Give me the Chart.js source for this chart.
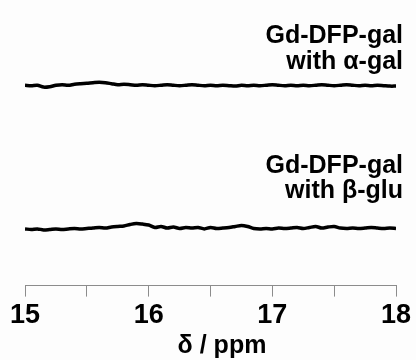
<!DOCTYPE html>
<html>
<head>
<meta charset="utf-8">
<script src="https://cdn.jsdelivr.net/npm/chart.js@4"></script>
<style>
  html, body { margin: 0; padding: 0; background: #fdfdfd; }
  #wrap { width: 416px; height: 360px; }
</style>
</head>
<body>
<div id="wrap"><canvas id="nmr" width="416" height="360"></canvas></div>
<script>
// ----------------------------
// Data: 19F-type spectra, shift axis 15..18 ppm, step 0.05
// ----------------------------
var shiftPpm = [];
for (var k = 0; k <= 60; k++) shiftPpm.push(+(15 + k * 0.05).toFixed(2));

// signal (arbitrary units) around each trace's baseline
var alphaGal = [
  0.3, 0.0, 0.3, -1.0, -0.7, 0.3, 0.7, 0.3, 1.0, 1.4,
  1.7, 2.1, 2.4, 2.1, 1.4, 0.7, 1.0, 0.7, 0.3, 0.7,
  0.3, 0.0, 0.3, 0.7, 0.3, 0.0, 0.3, 0.7, 0.3, 0.0,
  0.3, 0.0, 0.3, 0.0, -0.3, 0.3, 0.0, 0.3, 0.0, 0.3,
  0.7, 0.3, 0.0, 0.3, 0.0, 0.3, 0.0, 0.3, 0.7, 0.3,
  0.0, 0.3, 0.7, 0.3, 0.0, 0.3, 0.0, 0.3, 0.0, -0.3,
  -0.3
];
var betaGlu = [
  -0.3, -0.7, -0.3, -1.0, -0.7, -0.3, -0.7, -0.3, 0.0, -0.3,
  0.0, 0.3, 0.7, 0.3, 1.0, 1.4, 1.7, 2.8, 3.5, 3.1,
  2.4, 0.7, 1.4, 0.3, 1.0, 0.0, 0.7, 0.3, 0.7, -0.3,
  0.7, 0.0, 0.3, 0.7, 1.4, 2.1, 1.4, 0.0, -0.3, 0.0,
  -0.3, 0.3, 0.0, 0.3, 0.7, 0.0, 0.7, 1.4, 0.3, 1.0,
  1.4, 0.3, 0.0, 0.3, 0.0, 0.3, 0.7, 0.3, 0.0, 0.3,
  0.0
];

// stacking offsets for the two spectra
var alphaOffset = 100;
var betaOffset = 0;

var xTicks = [15, 16, 17, 18];

function toPoints(values, offset) {
  return values.map(function (v, i) { return { x: shiftPpm[i], y: v + offset }; });
}

// ----------------------------
// Trace labels + axis title (drawn as canvas text)
// ----------------------------
var textPlugin = {
  id: 'traceLabels',
  afterDraw: function (chart) {
    var ctx = chart.ctx;
    var right = chart.chartArea.right + 7;
    ctx.save();
    ctx.fillStyle = '#000';
    ctx.font = 'bold 25px "Liberation Sans", Arial, sans-serif';
    ctx.textAlign = 'right';
    ctx.textBaseline = 'alphabetic';
    ctx.fillText('Gd-DFP-gal', right, 43);
    ctx.fillText('with \u03B1-gal', right, 69);
    ctx.fillText('Gd-DFP-gal', right, 173);
    ctx.fillText('with \u03B2-glu', right, 198);
    ctx.textAlign = 'center';
    ctx.fillText('\u03B4 / ppm', 222, 353);
    ctx.restore();
  }
};

var lineStyle = {
  borderColor: '#000',
  borderWidth: 3.5,
  pointRadius: 0,
  tension: 0.3,
  fill: false
};

new Chart(document.getElementById('nmr').getContext('2d'), {
  type: 'line',
  data: {
    datasets: [
      Object.assign({ label: 'with alpha-gal', data: toPoints(alphaGal, alphaOffset) }, lineStyle),
      Object.assign({ label: 'with beta-glu', data: toPoints(betaGlu, betaOffset) }, lineStyle)
    ]
  },
  options: {
    responsive: false,
    animation: false,
    layout: { padding: { left: 25, right: 20, top: 0, bottom: 25 } },
    plugins: { legend: { display: false }, tooltip: { enabled: false } },
    scales: {
      x: {
        type: 'linear',
        min: 15,
        max: 18,
        grid: { drawOnChartArea: false, drawTicks: true, tickLength: 11, color: '#8c8c8c', lineWidth: 1 },
        border: { display: true, color: '#8c8c8c', width: 1 },
        afterBuildTicks: function (axis) {
          var t = [];
          for (var v = 15; v <= 18.001; v += 0.5) t.push({ value: +v.toFixed(1) });
          axis.ticks = t;
        },
        ticks: {
          color: '#000',
          padding: 3,
          maxRotation: 0,
          autoSkip: false,
          font: { family: '"Liberation Sans", Arial, sans-serif', size: 27, weight: 'bold', lineHeight: 1.2 },
          callback: function (v) { return xTicks.indexOf(v) >= 0 ? String(v) : ''; }
        }
      },
      y: { display: false, min: -40, max: 160 }
    }
  },
  plugins: [textPlugin]
});
</script>
</body>
</html>
